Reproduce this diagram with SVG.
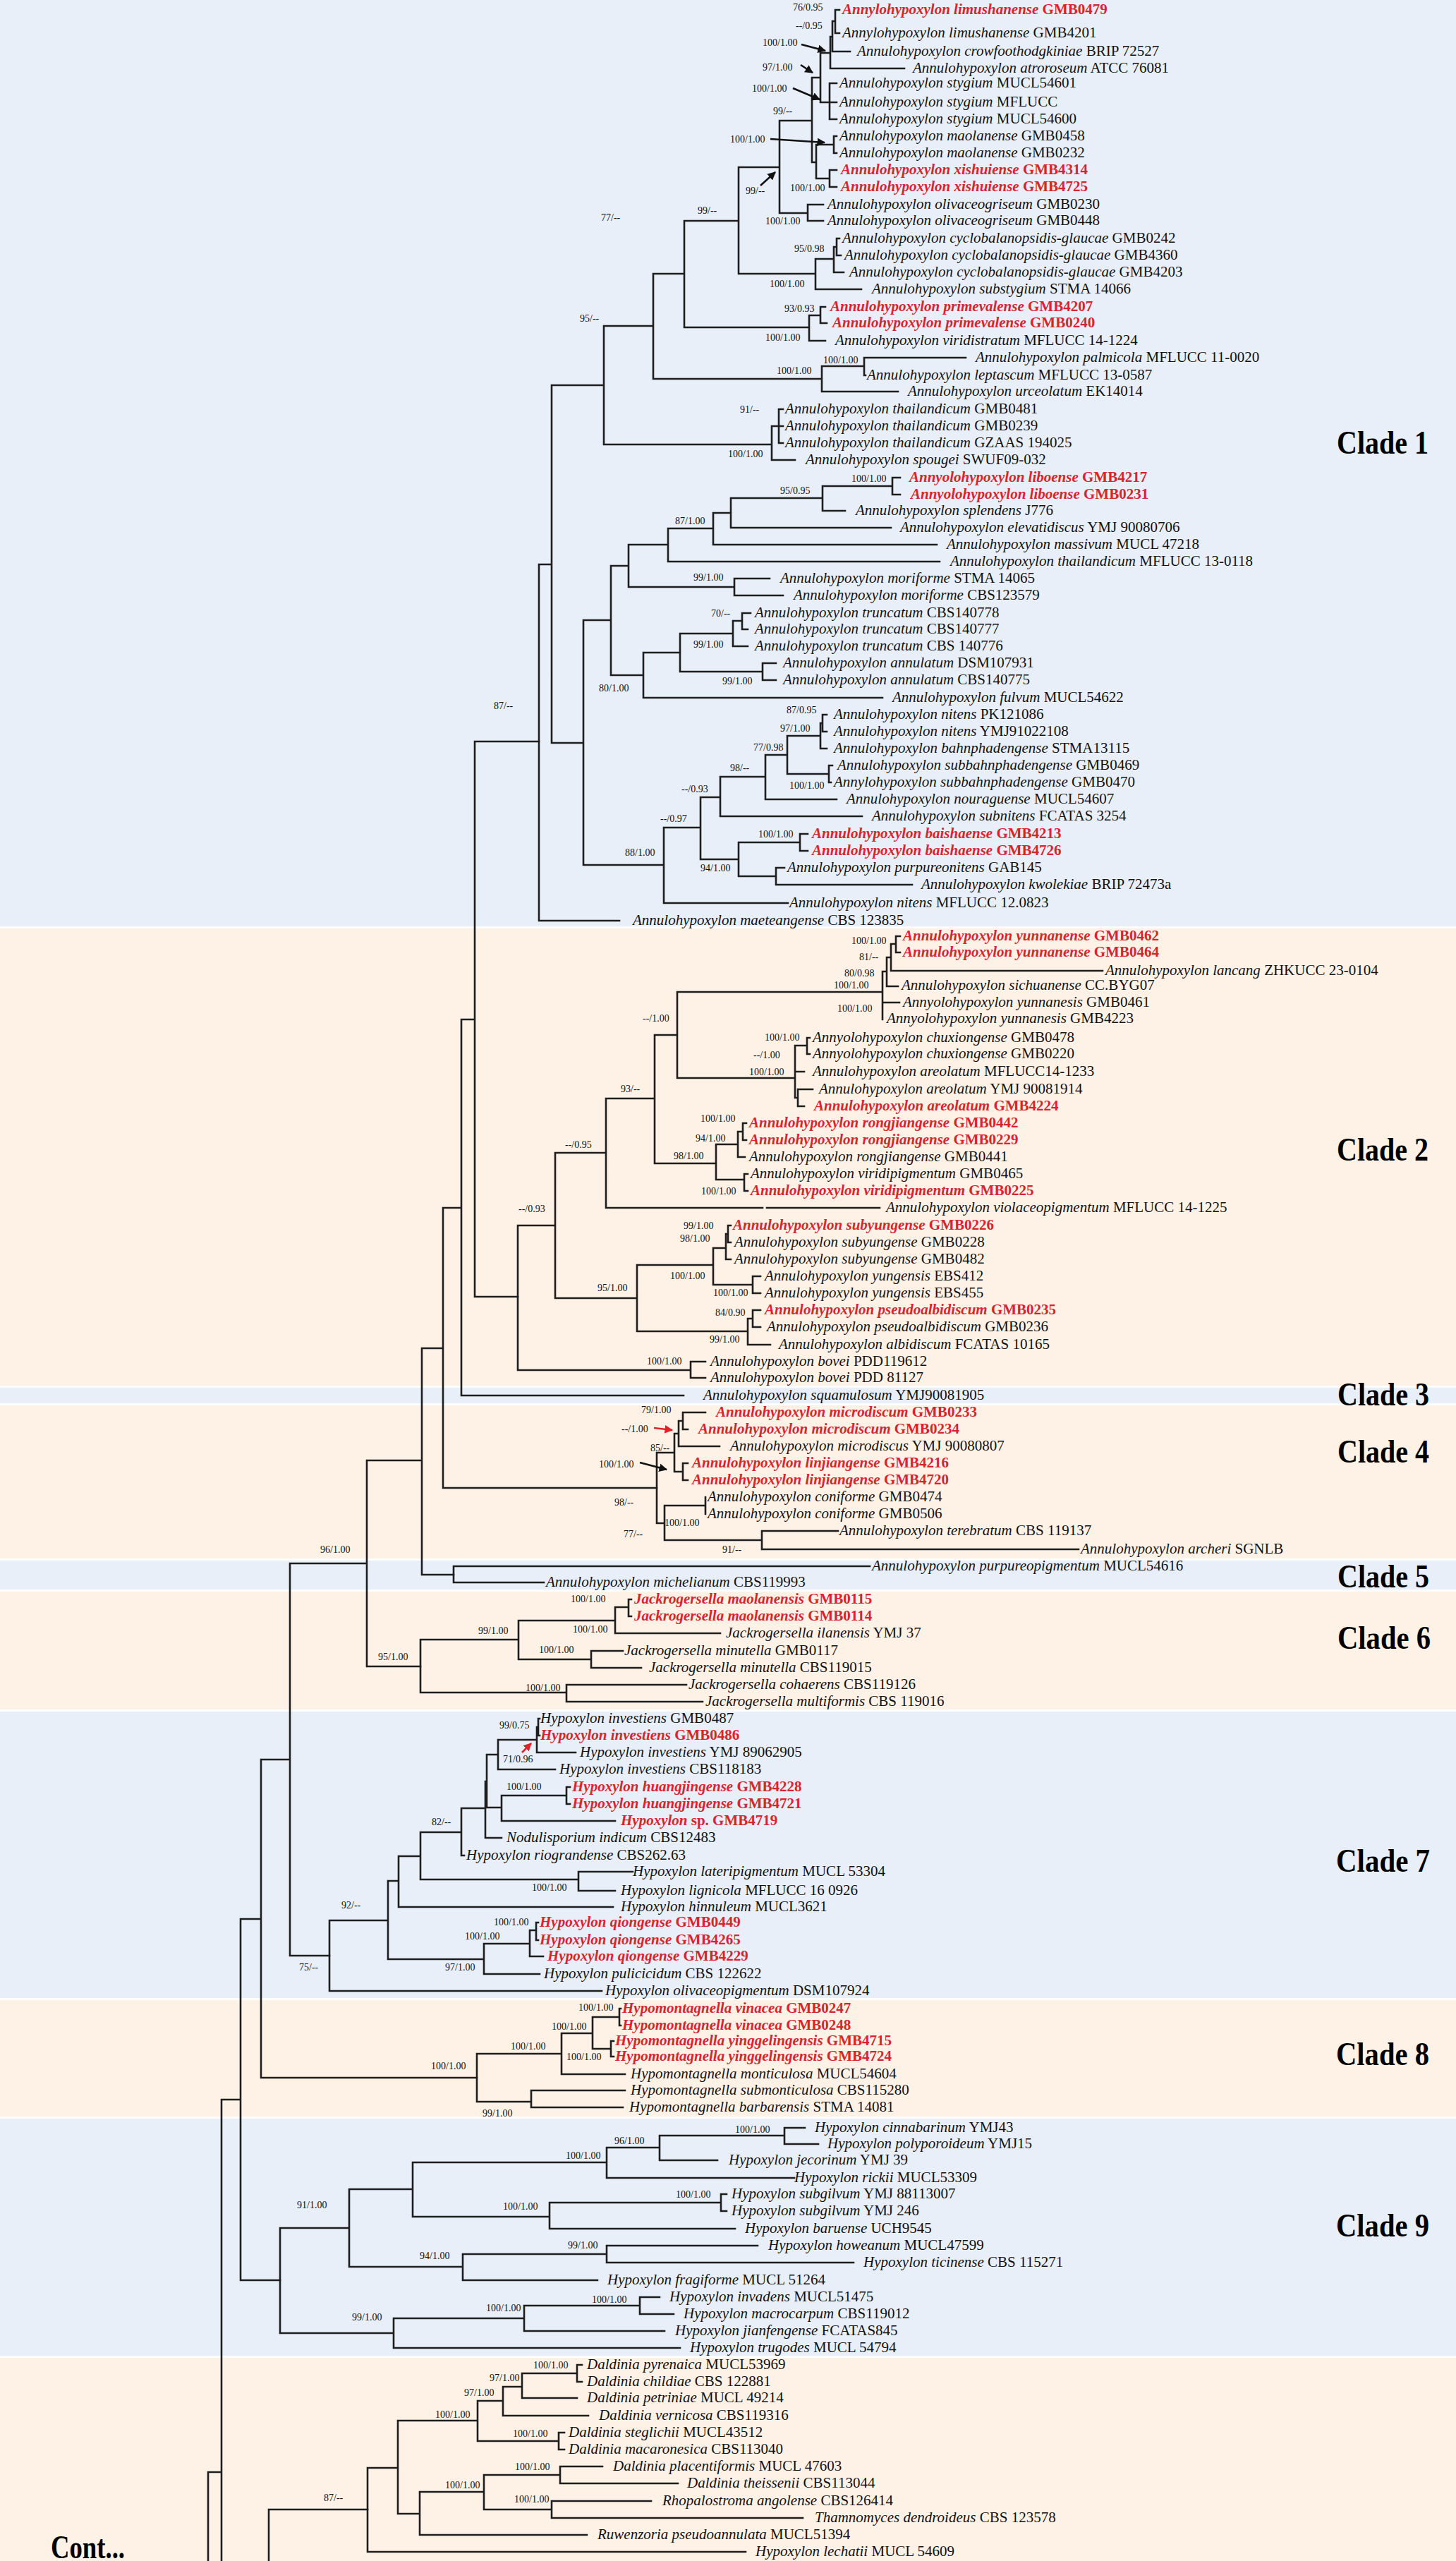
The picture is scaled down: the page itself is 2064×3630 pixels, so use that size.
<svg xmlns="http://www.w3.org/2000/svg" width="2064" height="3630" viewBox="0 0 2064 3630">
<style>
.lf{font-family:"Liberation Serif","Times New Roman",serif;font-size:21px;fill:#111}
.i{font-style:italic}
.r{fill:#d9232d;font-weight:bold}
.s{font-family:"Liberation Serif","Times New Roman",serif;font-size:14px;fill:#111}
.cl{font-family:"Liberation Serif","Times New Roman",serif;font-size:46px;font-weight:bold;fill:#000}
.br{fill:none;stroke:#1e1e1e;stroke-width:2.6;stroke-linecap:square}
.ar{fill:none;stroke:#111;stroke-width:2.6;marker-end:url(#ah)}
.arr{fill:none;stroke:#e0202a;stroke-width:2.6;marker-end:url(#ahr)}
.bl{fill:#e9eff8}
.pe{fill:#fef2e7}
</style>
<defs>
<marker id="ah" viewBox="0 0 10 10" refX="9" refY="5" markerWidth="4.5" markerHeight="4.5" orient="auto"><path d="M0 0L10 5L0 10z" fill="#111"/></marker>
<marker id="ahr" viewBox="0 0 10 10" refX="9" refY="5" markerWidth="4.5" markerHeight="4.5" orient="auto"><path d="M0 0L10 5L0 10z" fill="#e0202a"/></marker>
</defs>
<rect width="2064" height="3630" fill="#fff"/>
<g id="bands">
<rect class="bl" x="0" y="0" width="2064" height="1313"/>
<rect class="pe" x="0" y="1316" width="2064" height="648"/>
<rect class="bl" x="0" y="1967" width="2064" height="22"/>
<rect class="pe" x="0" y="1992" width="2064" height="217"/>
<rect class="bl" x="0" y="2212" width="2064" height="41"/>
<rect class="pe" x="0" y="2256" width="2064" height="167"/>
<rect class="bl" x="0" y="2426" width="2064" height="406"/>
<rect class="pe" x="0" y="2835" width="2064" height="165"/>
<rect class="bl" x="0" y="3003" width="2064" height="336"/>
<rect class="pe" x="0" y="3342" width="2064" height="288"/>
</g>
<g id="connectors">
<path class="br" d="M1184 14V47M1184 14H1190M1184 47H1190M1180 30V73M1180 30H1184M1180 73H1205M1177 52V97M1177 52H1180M1177 97H1282M1163 75V145M1163 75H1177M1163 145H1176M1176 118V169M1176 118H1186M1176 145H1186M1176 169H1186M1151 110V230M1151 110H1163M1151 230H1157M1157 205V253M1157 205H1182M1157 253H1176M1182 193V217M1182 193H1186M1182 217H1186M1176 241V265M1176 241H1186M1176 265H1186M1105 171V302M1105 171H1151M1105 302H1145M1145 290V313M1145 290H1167M1145 313H1167M1047 237V388M1047 237H1105M1047 388H1156M1156 367V410M1156 367H1182M1156 410H1221M1182 350V386M1182 350H1186M1182 386H1196M1186 338V362M1186 338H1190M1186 362H1192M970 313V464M970 313H1047M970 464H1147M1147 447V483M1147 447H1163M1147 483H1170M1163 435V458M1163 435H1170M1163 458H1172M926 388V537M926 388H970M926 537H1165M1165 519V555M1165 519H1225M1165 555H1273M1225 507V532M1225 507H1369M1225 532H1227M856 462V630M856 462H926M856 630H1094M1094 604V652M1094 604H1104M1094 652H1127M1104 580V628M1104 580H1110M1104 604H1110M1104 628H1110M782 546V1053M782 546H856M782 1053H827M764 800V1305M764 800H782M764 1305H878M827 879V1226M827 879H866M827 1226H941M866 802V957M866 802H891M866 957H912M891 772V832M891 772H947M891 832H1041M947 749V796M947 749H1011M947 796H1332M1011 727V772M1011 727H1036M1011 772H1328M1036 706V748M1036 706H1166M1036 748H1263M1166 689V724M1166 689H1265M1166 724H1198M1265 677V701M1265 677H1276M1265 701H1276M1041 820V844M1041 820H1091M1041 844H1110M912 925V989M912 925H964M912 989H1251M964 898V952M964 898H1039M964 952H1081M1039 880V916M1039 880H1052M1039 916H1060M1052 869V892M1052 869H1064M1052 892H1060M1081 940V964M1081 940H1100M1081 964H1100M941 1173V1280M941 1173H993M941 1280H1117M993 1130V1218M993 1130H1021M993 1218H1047M1021 1101V1157M1021 1101H1085M1021 1157H1222M1085 1070V1133M1085 1070H1116M1085 1133H1186M1116 1043V1097M1116 1043H1163M1116 1097H1175M1163 1025V1061M1163 1025H1166M1163 1061H1172M1166 1013V1037M1166 1013H1172M1166 1037H1172M1175 1085V1109M1175 1085H1180M1175 1109H1178M1047 1194V1242M1047 1194H1134M1047 1242H1100M1134 1182V1206M1134 1182H1145M1134 1206H1145M1100 1230V1254M1100 1230H1112M1100 1254H1293"/>
<path class="br" d="M673 1051V1838M673 1051H764M673 1838H734M654 1445V1978M654 1445H673M654 1978H969M628 1712V2109M628 1712H654M628 2109H931M598 1911V2232M598 1911H628M598 2232H643M520 2070V2362M520 2070H598M520 2362H596M411 2216V2772M411 2216H520M411 2772H467M370 2494V2945M370 2494H411M370 2945H676M341 2720V3232M341 2720H370M341 3232H397M314 2976V3630M314 2976H341M295 3504V3630M295 3504H314M381 3557V3630M381 3557H521"/>
<path class="br" d="M734 1737V1942M734 1737H787M734 1942H979M979 1930V1953M979 1930H1000M979 1953H1000M787 1634V1840M787 1634H859M787 1840H903M859 1557V1712M859 1557H928M859 1712H1081M1087 1712H1247M928 1467V1649M928 1467H960M928 1649H1015M960 1406V1528M960 1406H1251M960 1528H1127M1251 1377V1445M1251 1377H1257M1251 1421H1275M1257 1357V1398M1257 1357H1263M1257 1398H1273M1263 1338V1376M1263 1338H1270M1263 1376H1563M1270 1327V1350M1270 1327H1276M1270 1350H1276M1127 1482V1556M1127 1482H1144M1127 1519H1140M1127 1556H1131M1131 1544V1568M1131 1544H1152M1131 1568H1140M1144 1471V1494M1144 1471H1148M1144 1494H1148M1015 1622V1672M1015 1622H1046M1015 1672H1055M1046 1604V1640M1046 1604H1053M1046 1640H1056M1053 1592V1616M1053 1592H1058M1053 1616H1058M1055 1664V1688M1055 1664H1060M1055 1688H1060M903 1793V1887M903 1793H1011M903 1887H1060M1011 1769V1821M1011 1769H1029M1011 1821H1067M1029 1749V1785M1029 1749H1032M1029 1785H1036M1032 1737V1761M1032 1737H1036M1032 1761H1036M1067 1809V1833M1067 1809H1078M1067 1833H1078M1060 1869V1906M1060 1869H1067M1060 1906H1092M1067 1857V1881M1067 1857H1078M1067 1881H1078"/>
<path class="br" d="M931 2059V2159M931 2059H956M931 2159H942M956 2032V2086M956 2032H962M956 2086H968M962 2014V2050M962 2014H968M962 2050H1020M968 2002V2026M968 2002H1000M968 2026H975M968 2074V2098M968 2074H975M968 2098H975M942 2134V2183M942 2134H1000M942 2183H1080M1000 2122V2146M1080 2170V2196M1080 2170H1188M1080 2196H1529M643 2220V2243M643 2220H1233M643 2243H771"/>
<path class="br" d="M596 2324V2399M596 2324H735M596 2399H803M735 2297V2352M735 2297H872M735 2352H838M872 2278V2315M872 2278H891M872 2315H1021M891 2267V2291M891 2267H895M891 2291H895M838 2340V2364M838 2340H883M838 2364H909M803 2388V2412M803 2388H973M803 2412H996"/>
<path class="br" d="M467 2722V2822M467 2722H550M467 2822H853M550 2666V2777M550 2666H565M550 2777H686M565 2631V2703M565 2631H596M565 2703H869M596 2597V2664M596 2597H654M596 2664H820M820 2653V2680M820 2653H897M820 2680H872M654 2563V2630M654 2563H688M654 2630H658M688 2525V2605M688 2525H690M688 2605H711M690 2487V2562M690 2487H706M690 2562H711M706 2466V2508M706 2466H761M706 2508H787M761 2448V2484M761 2448H763M761 2484H816M763 2436V2460M763 2436H765M763 2460H765M711 2545V2581M711 2545H803M711 2581H872M803 2533V2557M803 2533H808M803 2557H808M686 2755V2798M686 2755H751M686 2798H765M751 2736V2773M751 2736H760M751 2773H770M760 2725V2750M760 2725H763M760 2750H763"/>
<path class="br" d="M676 2911V2979M676 2911H796M676 2979H753M753 2963V2987M753 2963H886M753 2987H883M796 2882V2940M796 2882H840M796 2940H886M840 2859V2904M840 2859H878M840 2904H866M878 2847V2871M878 2847H880M878 2871H880M866 2893V2915M866 2893H870M866 2915H870"/>
<path class="br" d="M397 3158V3307M397 3158H495M397 3307H558M495 3103V3213M495 3103H585M495 3213H656M585 3065V3142M585 3065H860M585 3142H779M860 3044V3087M860 3044H935M860 3087H1126M935 3027V3062M935 3027H1112M935 3062H1017M1112 3016V3039M1112 3016H1141M1112 3039H1160M779 3122V3159M779 3122H1022M779 3159H1042M1022 3110V3134M1022 3110H1030M1022 3134H1030M656 3195V3232M656 3195H860M656 3232H847M860 3183V3207M860 3183H1074M860 3207H1210M558 3286V3328M558 3286H743M558 3328H964M743 3268V3304M743 3268H907M743 3304H942M907 3256V3280M907 3256H935M907 3280H955"/>
<path class="br" d="M521 3498V3617M521 3498H564M521 3617H1057M564 3431V3563M564 3431H677M564 3563H595M595 3532V3593M595 3532H686M595 3593H832M686 3508V3557M686 3508H794M686 3557H782M794 3496V3520M794 3496H854M794 3520H961M782 3545V3569M782 3545H923M782 3569H1138M677 3403V3460M677 3403H713M677 3460H792M792 3448V3472M792 3448H800M792 3472H800M713 3383V3424M713 3383H740M713 3424H834M740 3364V3399M740 3364H818M740 3399H818M818 3352V3376M818 3352H825M818 3376H825"/>
<path class="ar" d="M1136 63L1170 72"/>
<path class="ar" d="M1135 92L1152 103"/>
<path class="ar" d="M1124 125L1162 141"/>
<path class="ar" d="M1092 197L1169 202"/>
<path class="ar" d="M1078 263L1099 244"/>
<path class="ar" d="M907 2073L945 2083"/>
<path class="arr" d="M927 2024L953 2027"/>
<path class="arr" d="M740 2484L753 2471"/>
</g>
<g id="leaves" class="lf">
<text id="leaf1" class="r" x="1194" y="20"><tspan class="i">Annylohypoxylon limushanense</tspan> GMB0479</text>
<text id="leaf2" x="1194" y="53"><tspan class="i">Annylohypoxylon limushanense</tspan> GMB4201</text>
<text id="leaf3" x="1215" y="79"><tspan class="i">Annulohypoxylon crowfoothodgkiniae</tspan> BRIP 72527</text>
<text id="leaf4" x="1294" y="103"><tspan class="i">Annulohypoxylon atroroseum</tspan> ATCC 76081</text>
<text id="leaf5" x="1190" y="124"><tspan class="i">Annulohypoxylon stygium</tspan> MUCL54601</text>
<text id="leaf6" x="1190" y="151"><tspan class="i">Annulohypoxylon stygium</tspan> MFLUCC</text>
<text id="leaf7" x="1190" y="175"><tspan class="i">Annulohypoxylon stygium</tspan> MUCL54600</text>
<text id="leaf8" x="1190" y="199"><tspan class="i">Annulohypoxylon maolanense</tspan> GMB0458</text>
<text id="leaf9" x="1190" y="223"><tspan class="i">Annulohypoxylon maolanense</tspan> GMB0232</text>
<text id="leaf10" class="r" x="1192" y="247"><tspan class="i">Annulohypoxylon xishuiense</tspan> GMB4314</text>
<text id="leaf11" class="r" x="1192" y="271"><tspan class="i">Annulohypoxylon xishuiense</tspan> GMB4725</text>
<text id="leaf12" x="1173" y="296"><tspan class="i">Annulohypoxylon olivaceogriseum</tspan> GMB0230</text>
<text id="leaf13" x="1173" y="319"><tspan class="i">Annulohypoxylon olivaceogriseum</tspan> GMB0448</text>
<text id="leaf14" x="1194" y="344"><tspan class="i">Annulohypoxylon cyclobalanopsidis-glaucae</tspan> GMB0242</text>
<text id="leaf15" x="1197" y="368"><tspan class="i">Annulohypoxylon cyclobalanopsidis-glaucae</tspan> GMB4360</text>
<text id="leaf16" x="1204" y="392"><tspan class="i">Annulohypoxylon cyclobalanopsidis-glaucae</tspan> GMB4203</text>
<text id="leaf17" x="1236" y="416"><tspan class="i">Annulohypoxylon substygium</tspan> STMA 14066</text>
<text id="leaf18" class="r" x="1177" y="441"><tspan class="i">Annulohypoxylon primevalense</tspan> GMB4207</text>
<text id="leaf19" class="r" x="1180" y="464"><tspan class="i">Annulohypoxylon primevalense</tspan> GMB0240</text>
<text id="leaf20" x="1184" y="489"><tspan class="i">Annulohypoxylon viridistratum</tspan> MFLUCC 14-1224</text>
<text id="leaf21" x="1383" y="513"><tspan class="i">Annulohypoxylon palmicola</tspan> MFLUCC 11-0020</text>
<text id="leaf22" x="1229" y="538"><tspan class="i">Annulohypoxylon leptascum</tspan> MFLUCC 13-0587</text>
<text id="leaf23" x="1287" y="561"><tspan class="i">Annulohypoxylon urceolatum</tspan> EK14014</text>
<text id="leaf24" x="1113" y="586"><tspan class="i">Annulohypoxylon thailandicum</tspan> GMB0481</text>
<text id="leaf25" x="1113" y="610"><tspan class="i">Annulohypoxylon thailandicum</tspan> GMB0239</text>
<text id="leaf26" x="1113" y="634"><tspan class="i">Annulohypoxylon thailandicum</tspan> GZAAS 194025</text>
<text id="leaf27" x="1142" y="658"><tspan class="i">Annulohypoxylon spougei</tspan> SWUF09-032</text>
<text id="leaf28" class="r" x="1289" y="683"><tspan class="i">Annyolohypoxylon liboense</tspan> GMB4217</text>
<text id="leaf29" class="r" x="1291" y="707"><tspan class="i">Annyolohypoxylon liboense</tspan> GMB0231</text>
<text id="leaf30" x="1213" y="730"><tspan class="i">Annulohypoxylon splendens</tspan> J776</text>
<text id="leaf31" x="1276" y="754"><tspan class="i">Annulohypoxylon elevatidiscus</tspan> YMJ 90080706</text>
<text id="leaf32" x="1342" y="778"><tspan class="i">Annulohypoxylon massivum</tspan> MUCL 47218</text>
<text id="leaf33" x="1347" y="802"><tspan class="i">Annulohypoxylon thailandicum</tspan> MFLUCC 13-0118</text>
<text id="leaf34" x="1106" y="826"><tspan class="i">Annulohypoxylon moriforme</tspan> STMA 14065</text>
<text id="leaf35" x="1125" y="850"><tspan class="i">Annulohypoxylon moriforme</tspan> CBS123579</text>
<text id="leaf36" x="1070" y="875"><tspan class="i">Annulohypoxylon truncatum</tspan> CBS140778</text>
<text id="leaf37" x="1070" y="898"><tspan class="i">Annulohypoxylon truncatum</tspan> CBS140777</text>
<text id="leaf38" x="1070" y="922"><tspan class="i">Annulohypoxylon truncatum</tspan> CBS 140776</text>
<text id="leaf39" x="1110" y="946"><tspan class="i">Annulohypoxylon annulatum</tspan> DSM107931</text>
<text id="leaf40" x="1110" y="970"><tspan class="i">Annulohypoxylon annulatum</tspan> CBS140775</text>
<text id="leaf41" x="1265" y="995"><tspan class="i">Annulohypoxylon fulvum</tspan> MUCL54622</text>
<text id="leaf42" x="1182" y="1019"><tspan class="i">Annulohypoxylon nitens</tspan> PK121086</text>
<text id="leaf43" x="1182" y="1043"><tspan class="i">Annulohypoxylon nitens</tspan> YMJ91022108</text>
<text id="leaf44" x="1182" y="1067"><tspan class="i">Annulohypoxylon bahnphadengense</tspan> STMA13115</text>
<text id="leaf45" x="1187" y="1091"><tspan class="i">Annulohypoxylon subbahnphadengense</tspan> GMB0469</text>
<text id="leaf46" x="1182" y="1115"><tspan class="i">Annylohypoxylon subbahnphadengense</tspan> GMB0470</text>
<text id="leaf47" x="1200" y="1139"><tspan class="i">Annulohypoxylon nouraguense</tspan> MUCL54607</text>
<text id="leaf48" x="1236" y="1163"><tspan class="i">Annulohypoxylon subnitens</tspan> FCATAS 3254</text>
<text id="leaf49" class="r" x="1151" y="1188"><tspan class="i">Annulohypoxylon baishaense</tspan> GMB4213</text>
<text id="leaf50" class="r" x="1151" y="1212"><tspan class="i">Annulohypoxylon baishaense</tspan> GMB4726</text>
<text id="leaf51" x="1116" y="1236"><tspan class="i">Annulohypoxylon purpureonitens</tspan> GAB145</text>
<text id="leaf52" x="1306" y="1260"><tspan class="i">Annulohypoxylon kwolekiae</tspan> BRIP 72473a</text>
<text id="leaf53" x="1119" y="1286"><tspan class="i">Annulohypoxylon nitens</tspan> MFLUCC 12.0823</text>
<text id="leaf54" x="897" y="1311"><tspan class="i">Annulohypoxylon maeteangense</tspan> CBS 123835</text>
<text id="leaf55" class="r" x="1280" y="1333"><tspan class="i">Annulohypoxylon yunnanense</tspan> GMB0462</text>
<text id="leaf56" class="r" x="1280" y="1356"><tspan class="i">Annulohypoxylon yunnanense</tspan> GMB0464</text>
<text id="leaf57" x="1567" y="1382"><tspan class="i">Annulohypoxylon lancang</tspan> ZHKUCC 23-0104</text>
<text id="leaf58" x="1278" y="1403"><tspan class="i">Annulohypoxylon sichuanense</tspan> CC.BYG07</text>
<text id="leaf59" x="1280" y="1427"><tspan class="i">Annyolohypoxylon yunnanesis</tspan> GMB0461</text>
<text id="leaf60" x="1257" y="1450"><tspan class="i">Annyolohypoxylon yunnanesis</tspan> GMB4223</text>
<text id="leaf61" x="1152" y="1477"><tspan class="i">Annyolohypoxylon chuxiongense</tspan> GMB0478</text>
<text id="leaf62" x="1152" y="1500"><tspan class="i">Annyolohypoxylon chuxiongense</tspan> GMB0220</text>
<text id="leaf63" x="1152" y="1525"><tspan class="i">Annulohypoxylon areolatum</tspan> MFLUCC14-1233</text>
<text id="leaf64" x="1161" y="1550"><tspan class="i">Annulohypoxylon areolatum</tspan> YMJ 90081914</text>
<text id="leaf65" class="r" x="1154" y="1574"><tspan class="i">Annulohypoxylon areolatum</tspan> GMB4224</text>
<text id="leaf66" class="r" x="1062" y="1598"><tspan class="i">Annulohypoxylon rongjiangense</tspan> GMB0442</text>
<text id="leaf67" class="r" x="1062" y="1622"><tspan class="i">Annulohypoxylon rongjiangense</tspan> GMB0229</text>
<text id="leaf68" x="1062" y="1646"><tspan class="i">Annulohypoxylon rongjiangense</tspan> GMB0441</text>
<text id="leaf69" x="1064" y="1670"><tspan class="i">Annulohypoxylon viridipigmentum</tspan> GMB0465</text>
<text id="leaf70" class="r" x="1064" y="1694"><tspan class="i">Annulohypoxylon viridipigmentum</tspan> GMB0225</text>
<text id="leaf71" x="1256" y="1718"><tspan class="i">Annulohypoxylon violaceopigmentum</tspan> MFLUCC 14-1225</text>
<text id="leaf72" class="r" x="1039" y="1743"><tspan class="i">Annulohypoxylon subyungense</tspan> GMB0226</text>
<text id="leaf73" x="1041" y="1767"><tspan class="i">Annulohypoxylon subyungense</tspan> GMB0228</text>
<text id="leaf74" x="1041" y="1791"><tspan class="i">Annulohypoxylon subyungense</tspan> GMB0482</text>
<text id="leaf75" x="1084" y="1815"><tspan class="i">Annulohypoxylon yungensis</tspan> EBS412</text>
<text id="leaf76" x="1084" y="1839"><tspan class="i">Annulohypoxylon yungensis</tspan> EBS455</text>
<text id="leaf77" class="r" x="1084" y="1863"><tspan class="i">Annulohypoxylon pseudoalbidiscum</tspan> GMB0235</text>
<text id="leaf78" x="1087" y="1887"><tspan class="i">Annulohypoxylon pseudoalbidiscum</tspan> GMB0236</text>
<text id="leaf79" x="1104" y="1912"><tspan class="i">Annulohypoxylon albidiscum</tspan> FCATAS 10165</text>
<text id="leaf80" x="1007" y="1936"><tspan class="i">Annulohypoxylon bovei</tspan> PDD119612</text>
<text id="leaf81" x="1007" y="1959"><tspan class="i">Annulohypoxylon bovei</tspan> PDD 81127</text>
<text id="leaf82" x="997" y="1984"><tspan class="i">Annulohypoxylon squamulosum</tspan> YMJ90081905</text>
<text id="leaf83" class="r" x="1015" y="2008"><tspan class="i">Annulohypoxylon microdiscum</tspan> GMB0233</text>
<text id="leaf84" class="r" x="990" y="2032"><tspan class="i">Annulohypoxylon microdiscum</tspan> GMB0234</text>
<text id="leaf85" x="1035" y="2056"><tspan class="i">Annulohypoxylon microdiscus</tspan> YMJ 90080807</text>
<text id="leaf86" class="r" x="981" y="2080"><tspan class="i">Annulohypoxylon linjiangense</tspan> GMB4216</text>
<text id="leaf87" class="r" x="981" y="2104"><tspan class="i">Annulohypoxylon linjiangense</tspan> GMB4720</text>
<text id="leaf88" x="1003" y="2128"><tspan class="i">Annulohypoxylon coniforme</tspan> GMB0474</text>
<text id="leaf89" x="1003" y="2152"><tspan class="i">Annulohypoxylon coniforme</tspan> GMB0506</text>
<text id="leaf90" x="1190" y="2176"><tspan class="i">Annulohypoxylon terebratum</tspan> CBS 119137</text>
<text id="leaf91" x="1532" y="2202"><tspan class="i">Annulohypoxylon archeri</tspan> SGNLB</text>
<text id="leaf92" x="1236" y="2226"><tspan class="i">Annulohypoxylon purpureopigmentum</tspan> MUCL54616</text>
<text id="leaf93" x="774" y="2249"><tspan class="i">Annulohypoxylon michelianum</tspan> CBS119993</text>
<text id="leaf94" class="r" x="899" y="2273"><tspan class="i">Jackrogersella maolanensis</tspan> GMB0115</text>
<text id="leaf95" class="r" x="899" y="2297"><tspan class="i">Jackrogersella maolanensis</tspan> GMB0114</text>
<text id="leaf96" x="1029" y="2321"><tspan class="i">Jackrogersella ilanensis</tspan> YMJ 37</text>
<text id="leaf97" x="885" y="2346"><tspan class="i">Jackrogersella minutella</tspan> GMB0117</text>
<text id="leaf98" x="920" y="2370"><tspan class="i">Jackrogersella minutella</tspan> CBS119015</text>
<text id="leaf99" x="976" y="2394"><tspan class="i">Jackrogersella cohaerens</tspan> CBS119126</text>
<text id="leaf100" x="1000" y="2418"><tspan class="i">Jackrogersella multiformis</tspan> CBS 119016</text>
<text id="leaf101" x="766" y="2442"><tspan class="i">Hypoxylon investiens</tspan> GMB0487</text>
<text id="leaf102" class="r" x="766" y="2466"><tspan class="i">Hypoxylon investiens</tspan> GMB0486</text>
<text id="leaf103" x="822" y="2490"><tspan class="i">Hypoxylon investiens</tspan> YMJ 89062905</text>
<text id="leaf104" x="793" y="2514"><tspan class="i">Hypoxylon investiens</tspan> CBS118183</text>
<text id="leaf105" class="r" x="811" y="2539"><tspan class="i">Hypoxylon huangjingense</tspan> GMB4228</text>
<text id="leaf106" class="r" x="811" y="2563"><tspan class="i">Hypoxylon huangjingense</tspan> GMB4721</text>
<text id="leaf107" class="r" x="880" y="2587"><tspan class="i">Hypoxylon</tspan> sp. GMB4719</text>
<text id="leaf108" x="718" y="2611"><tspan class="i">Nodulisporium indicum</tspan> CBS12483</text>
<text id="leaf109" x="661" y="2636"><tspan class="i">Hypoxylon riograndense</tspan> CBS262.63</text>
<text id="leaf110" x="897" y="2659"><tspan class="i">Hypoxylon lateripigmentum</tspan> MUCL 53304</text>
<text id="leaf111" x="880" y="2686"><tspan class="i">Hypoxylon lignicola</tspan> MFLUCC 16 0926</text>
<text id="leaf112" x="880" y="2709"><tspan class="i">Hypoxylon hinnuleum</tspan> MUCL3621</text>
<text id="leaf113" class="r" x="765" y="2731"><tspan class="i">Hypoxylon qiongense</tspan> GMB0449</text>
<text id="leaf114" class="r" x="765" y="2756"><tspan class="i">Hypoxylon qiongense</tspan> GMB4265</text>
<text id="leaf115" class="r" x="776" y="2779"><tspan class="i">Hypoxylon qiongense</tspan> GMB4229</text>
<text id="leaf116" x="771" y="2804"><tspan class="i">Hypoxylon pulicicidum</tspan> CBS 122622</text>
<text id="leaf117" x="858" y="2828"><tspan class="i">Hypoxylon olivaceopigmentum</tspan> DSM107924</text>
<text id="leaf118" class="r" x="882" y="2853"><tspan class="i">Hypomontagnella vinacea</tspan> GMB0247</text>
<text id="leaf119" class="r" x="882" y="2877"><tspan class="i">Hypomontagnella vinacea</tspan> GMB0248</text>
<text id="leaf120" class="r" x="872" y="2899"><tspan class="i">Hypomontagnella yinggelingensis</tspan> GMB4715</text>
<text id="leaf121" class="r" x="872" y="2921"><tspan class="i">Hypomontagnella yinggelingensis</tspan> GMB4724</text>
<text id="leaf122" x="894" y="2946"><tspan class="i">Hypomontagnella monticulosa</tspan> MUCL54604</text>
<text id="leaf123" x="894" y="2969"><tspan class="i">Hypomontagnella submonticulosa</tspan> CBS115280</text>
<text id="leaf124" x="892" y="2993"><tspan class="i">Hypomontagnella barbarensis</tspan> STMA 14081</text>
<text id="leaf125" x="1155" y="3022"><tspan class="i">Hypoxylon cinnabarinum</tspan> YMJ43</text>
<text id="leaf126" x="1173" y="3045"><tspan class="i">Hypoxylon polyporoideum</tspan> YMJ15</text>
<text id="leaf127" x="1033" y="3068"><tspan class="i">Hypoxylon jecorinum</tspan> YMJ 39</text>
<text id="leaf128" x="1126" y="3093"><tspan class="i">Hypoxylon rickii</tspan> MUCL53309</text>
<text id="leaf129" x="1037" y="3116"><tspan class="i">Hypoxylon subgilvum</tspan> YMJ 88113007</text>
<text id="leaf130" x="1037" y="3140"><tspan class="i">Hypoxylon subgilvum</tspan> YMJ 246</text>
<text id="leaf131" x="1056" y="3165"><tspan class="i">Hypoxylon baruense</tspan> UCH9545</text>
<text id="leaf132" x="1089" y="3189"><tspan class="i">Hypoxylon howeanum</tspan> MUCL47599</text>
<text id="leaf133" x="1224" y="3213"><tspan class="i">Hypoxylon ticinense</tspan> CBS 115271</text>
<text id="leaf134" x="861" y="3238"><tspan class="i">Hypoxylon fragiforme</tspan> MUCL 51264</text>
<text id="leaf135" x="949" y="3262"><tspan class="i">Hypoxylon invadens</tspan> MUCL51475</text>
<text id="leaf136" x="969" y="3286"><tspan class="i">Hypoxylon macrocarpum</tspan> CBS119012</text>
<text id="leaf137" x="957" y="3310"><tspan class="i">Hypoxylon jianfengense</tspan> FCATAS845</text>
<text id="leaf138" x="978" y="3334"><tspan class="i">Hypoxylon trugodes</tspan> MUCL 54794</text>
<text id="leaf139" x="832" y="3358"><tspan class="i">Daldinia pyrenaica</tspan> MUCL53969</text>
<text id="leaf140" x="832" y="3382"><tspan class="i">Daldinia childiae</tspan> CBS 122881</text>
<text id="leaf141" x="832" y="3405"><tspan class="i">Daldinia petriniae</tspan> MUCL 49214</text>
<text id="leaf142" x="849" y="3430"><tspan class="i">Daldinia vernicosa</tspan> CBS119316</text>
<text id="leaf143" x="806" y="3454"><tspan class="i">Daldinia steglichii</tspan> MUCL43512</text>
<text id="leaf144" x="806" y="3478"><tspan class="i">Daldinia macaronesica</tspan> CBS113040</text>
<text id="leaf145" x="869" y="3502"><tspan class="i">Daldinia placentiformis</tspan> MUCL 47603</text>
<text id="leaf146" x="974" y="3526"><tspan class="i">Daldinia theissenii</tspan> CBS113044</text>
<text id="leaf147" x="939" y="3551"><tspan class="i">Rhopalostroma angolense</tspan> CBS126414</text>
<text id="leaf148" x="1155" y="3575"><tspan class="i">Thamnomyces dendroideus</tspan> CBS 123578</text>
<text id="leaf149" x="847" y="3599"><tspan class="i">Ruwenzoria pseudoannulata</tspan> MUCL51394</text>
<text id="leaf150" x="1071" y="3623"><tspan class="i">Hypoxylon lechatii</tspan> MUCL 54609</text>
</g>
<g id="support" class="s">
<text x="1124" y="15">76/0.95</text>
<text x="1128" y="41">--/0.95</text>
<text x="1081" y="65">100/1.00</text>
<text x="1081" y="100">97/1.00</text>
<text x="1066" y="130">100/1.00</text>
<text x="1096" y="162">99/--</text>
<text x="1035" y="202">100/1.00</text>
<text x="1120" y="271">100/1.00</text>
<text x="1057" y="275">99/--</text>
<text x="989" y="303">99/--</text>
<text x="852" y="313">77/--</text>
<text x="1085" y="318">100/1.00</text>
<text x="1126" y="357">95/0.98</text>
<text x="1091" y="407">100/1.00</text>
<text x="1112" y="442">93/0.93</text>
<text x="822" y="456">95/--</text>
<text x="1085" y="483">100/1.00</text>
<text x="1167" y="515">100/1.00</text>
<text x="1101" y="530">100/1.00</text>
<text x="1049" y="585">91/--</text>
<text x="1032" y="648">100/1.00</text>
<text x="1207" y="683">100/1.00</text>
<text x="1106" y="700">95/0.95</text>
<text x="957" y="743">87/1.00</text>
<text x="983" y="823">99/1.00</text>
<text x="1008" y="874">70/--</text>
<text x="983" y="918">99/1.00</text>
<text x="1024" y="970">99/1.00</text>
<text x="849" y="980">80/1.00</text>
<text x="700" y="1005">87/--</text>
<text x="1115" y="1011">87/0.95</text>
<text x="1106" y="1037">97/1.00</text>
<text x="1068" y="1064">77/0.98</text>
<text x="1035" y="1093">98/--</text>
<text x="1119" y="1118">100/1.00</text>
<text x="966" y="1123">--/0.93</text>
<text x="936" y="1165">--/0.97</text>
<text x="1075" y="1187">100/1.00</text>
<text x="886" y="1213">88/1.00</text>
<text x="993" y="1235">94/1.00</text>
<text x="1207" y="1338">100/1.00</text>
<text x="1218" y="1361">81/--</text>
<text x="1197" y="1384">80/0.98</text>
<text x="1182" y="1401">100/1.00</text>
<text x="1187" y="1434">100/1.00</text>
<text x="911" y="1448">--/1.00</text>
<text x="1084" y="1475">100/1.00</text>
<text x="1068" y="1500">--/1.00</text>
<text x="1062" y="1524">100/1.00</text>
<text x="880" y="1548">93/--</text>
<text x="993" y="1590">100/1.00</text>
<text x="986" y="1618">94/1.00</text>
<text x="801" y="1627">--/0.95</text>
<text x="955" y="1643">98/1.00</text>
<text x="994" y="1693">100/1.00</text>
<text x="735" y="1718">--/0.93</text>
<text x="969" y="1742">99/1.00</text>
<text x="964" y="1760">98/1.00</text>
<text x="950" y="1813">100/1.00</text>
<text x="847" y="1830">95/1.00</text>
<text x="1011" y="1837">100/1.00</text>
<text x="1014" y="1865">84/0.90</text>
<text x="1006" y="1903">99/1.00</text>
<text x="917" y="1934">100/1.00</text>
<text x="909" y="2003">79/1.00</text>
<text x="881" y="2030">--/1.00</text>
<text x="922" y="2057">85/--</text>
<text x="849" y="2080">100/1.00</text>
<text x="871" y="2134">98/--</text>
<text x="942" y="2163">100/1.00</text>
<text x="884" y="2179">77/--</text>
<text x="1024" y="2201">91/--</text>
<text x="454" y="2201">96/1.00</text>
<text x="809" y="2271">100/1.00</text>
<text x="812" y="2314">100/1.00</text>
<text x="678" y="2316">99/1.00</text>
<text x="764" y="2343">100/1.00</text>
<text x="536" y="2353">95/1.00</text>
<text x="745" y="2397">100/1.00</text>
<text x="708" y="2450">99/0.75</text>
<text x="713" y="2498">71/0.96</text>
<text x="718" y="2537">100/1.00</text>
<text x="612" y="2587">82/--</text>
<text x="754" y="2680">100/1.00</text>
<text x="484" y="2705">92/--</text>
<text x="700" y="2729">100/1.00</text>
<text x="659" y="2749">100/1.00</text>
<text x="631" y="2793">97/1.00</text>
<text x="424" y="2793">75/--</text>
<text x="820" y="2850">100/1.00</text>
<text x="782" y="2877">100/1.00</text>
<text x="724" y="2905">100/1.00</text>
<text x="803" y="2920">100/1.00</text>
<text x="611" y="2933">100/1.00</text>
<text x="684" y="3000">99/1.00</text>
<text x="1042" y="3023">100/1.00</text>
<text x="871" y="3039">96/1.00</text>
<text x="802" y="3060">100/1.00</text>
<text x="958" y="3115">100/1.00</text>
<text x="421" y="3130">91/1.00</text>
<text x="713" y="3132">100/1.00</text>
<text x="805" y="3187">99/1.00</text>
<text x="595" y="3202">94/1.00</text>
<text x="839" y="3264">100/1.00</text>
<text x="689" y="3276">100/1.00</text>
<text x="499" y="3289">99/1.00</text>
<text x="756" y="3357">100/1.00</text>
<text x="694" y="3375">97/1.00</text>
<text x="658" y="3396">97/1.00</text>
<text x="617" y="3427">100/1.00</text>
<text x="727" y="3454">100/1.00</text>
<text x="730" y="3501">100/1.00</text>
<text x="631" y="3527">100/1.00</text>
<text x="729" y="3547">100/1.00</text>
<text x="459" y="3545">87/--</text>
</g>
<g id="clades" class="cl">
<text id="clade1" x="1895" y="643" textLength="130" lengthAdjust="spacingAndGlyphs">Clade 1</text>
<text id="clade2" x="1895" y="1645" textLength="130" lengthAdjust="spacingAndGlyphs">Clade 2</text>
<text id="clade3" x="1896" y="1992" textLength="130" lengthAdjust="spacingAndGlyphs">Clade 3</text>
<text id="clade4" x="1896" y="2073" textLength="130" lengthAdjust="spacingAndGlyphs">Clade 4</text>
<text id="clade5" x="1896" y="2250" textLength="130" lengthAdjust="spacingAndGlyphs">Clade 5</text>
<text id="clade6" x="1896" y="2337" textLength="132" lengthAdjust="spacingAndGlyphs">Clade 6</text>
<text id="clade7" x="1894" y="2653" textLength="133" lengthAdjust="spacingAndGlyphs">Clade 7</text>
<text id="clade8" x="1894" y="2927" textLength="132" lengthAdjust="spacingAndGlyphs">Clade 8</text>
<text id="clade9" x="1894" y="3170" textLength="132" lengthAdjust="spacingAndGlyphs">Clade 9</text>
<text id="cont" x="72" y="3626" textLength="105" lengthAdjust="spacingAndGlyphs">Cont...</text>
</g>
</svg>
